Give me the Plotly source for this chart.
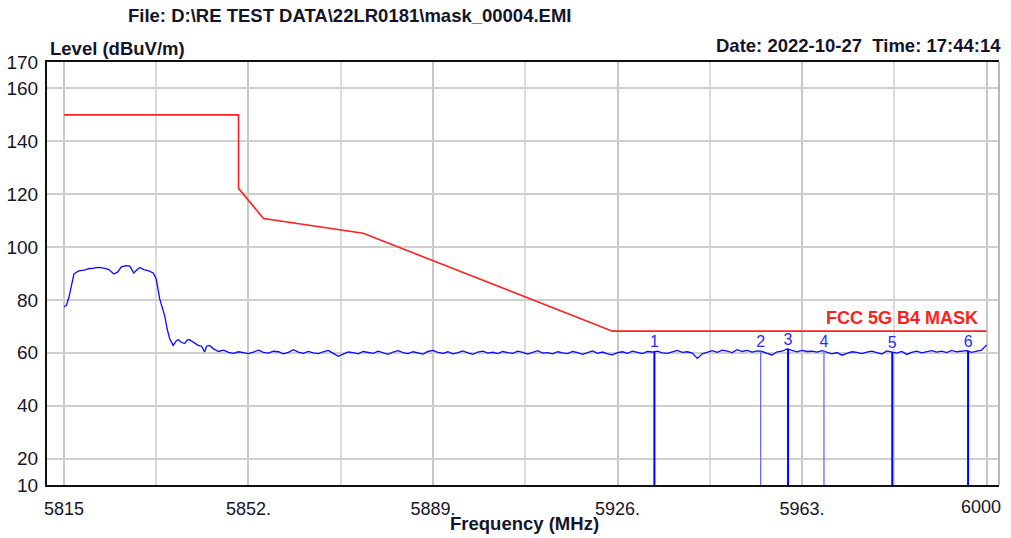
import plotly.graph_objects as go

# ---- data ----
trace_freq_head = [5815.0, 5815.5, 5816.0, 5816.5, 5817.0, 5817.5, 5818.0, 5819.0, 5820.0, 5821.0,
                   5822.0, 5823.0, 5824.0, 5825.0, 5825.8, 5826.5, 5827.5, 5828.2, 5829.0, 5829.7,
                   5830.2, 5831.0, 5832.0, 5832.9, 5833.5, 5834.2, 5834.7, 5835.2, 5835.7, 5836.2,
                   5836.9, 5837.5, 5837.9, 5838.5, 5839.2, 5839.7, 5840.2, 5841.0, 5841.9, 5842.6,
                   5843.2, 5843.6, 5844.2, 5845.0, 5845.6]
trace_level_head = [77.3, 78.0, 81.0, 86.0, 89.8, 90.5, 91.0, 91.3, 91.8, 92.0,
                    92.3, 92.0, 91.5, 89.8, 90.6, 92.5, 93.0, 92.8, 90.2, 91.5,
                    92.3, 91.5, 91.0, 90.2, 88.0, 80.4, 77.0, 74.0, 69.0, 65.3,
                    62.8, 64.5, 65.0, 64.0, 63.5, 64.8, 65.0, 64.0, 62.8, 62.5,
                    60.3, 62.5, 62.8, 61.5, 60.9]
trace_freq_tail = list(range(5846, 6001))
trace_level_tail = [
    60.5, 61.0, 60.2, 59.8, 60.4, 60.1, 59.7, 60.3, 61.0, 60.2,
    59.9, 60.6, 60.4, 59.6, 60.2, 61.2, 60.3, 59.8, 60.5, 60.0,
    59.7, 60.4, 60.9, 59.8, 58.7, 59.5, 60.3, 60.1, 59.6, 60.5,
    60.2, 59.8, 60.6, 60.0, 59.4, 60.3, 60.8, 60.1, 59.7, 60.4,
    60.0, 59.5, 60.5, 60.9, 60.2, 59.8, 60.4, 59.6, 60.1, 60.7,
    60.0, 59.4, 60.3, 60.6, 59.9, 60.2, 59.7, 60.5, 60.1, 59.8,
    60.6, 60.2, 59.5, 60.3, 60.8, 59.9, 60.1, 59.6, 60.4, 60.0,
    59.7, 60.5, 60.1, 59.4, 60.2, 60.7, 59.8, 60.3, 59.6, 59.2,
    60.1, 60.4, 59.8, 60.6, 60.2, 59.7, 60.5, 60.3, 60.6, 60.0,
    59.8, 60.5, 60.9, 60.2, 60.4, 59.9, 57.9, 59.6, 60.3, 60.8,
    60.2, 61.0, 60.6, 60.1, 61.2, 60.5, 60.9, 60.3, 60.7, 60.5,
    59.8, 59.2, 60.4, 60.6, 61.5, 60.8, 60.4, 60.9, 60.5, 60.6,
    60.3, 60.8, 60.2, 59.6, 60.1, 59.1, 59.8, 60.4, 60.2, 59.7,
    60.3, 60.6, 60.1, 59.5, 60.7, 60.3, 59.9, 60.5, 59.4, 60.2,
    60.6, 60.0, 60.4, 60.8, 60.3, 60.6, 60.1, 60.9, 60.4, 60.5,
    60.8, 60.2, 60.5, 61.0, 63.0]

mask_freq = [5815, 5850, 5850, 5855, 5875, 5925, 6000]
mask_level = [150, 150, 122.2, 110.8, 105.2, 68.2, 68.2]
mask_name = "FCC 5G B4 MASK"

marker_ids = ["1", "2", "3", "4", "5", "6"]
marker_freq = [5933.4, 5954.7, 5960.2, 5967.4, 5981.1, 5996.3]
marker_level = [60.5, 60.5, 61.5, 60.8, 60.3, 60.8]

x_tickvals = [5815, 5852, 5889, 5926, 5963, 6000]
x_ticktext = ["5815", "5852.", "5889.", "5926.", "5963.", ""]
x_last_label = "6000"
x_minor_grid = [5833.5, 5870.5, 5907.5, 5944.5, 5981.5]
y_tickvals = [10, 20, 40, 60, 80, 100, 120, 140, 160, 170]

title_text = "File: D:\\RE TEST DATA\\22LR0181\\mask_00004.EMI"
date_text = "Date: 2022-10-27&nbsp;&nbsp;Time: 17:44:14"
ylabel_text = "Level (dBuV/m)"
xlabel_text = "Frequency (MHz)"

FONT = "Liberation Sans, Arial, sans-serif"
TXT = "#15152a"

trace_freq = trace_freq_head + trace_freq_tail
trace_level = trace_level_head + trace_level_tail

fig = go.Figure()

fig.add_trace(go.Scatter(x=mask_freq, y=mask_level, mode="lines",
                         line=dict(color="#ff2020", width=1.6), hoverinfo="skip"))

fig.add_trace(go.Scatter(x=trace_freq, y=trace_level, mode="lines",
                         line=dict(color="#0a0aff", width=1.3), hoverinfo="skip"))

# marker stems
for i, (f, lv) in enumerate(zip(marker_freq, marker_level)):
    light = marker_ids[i] in ("2", "4")
    fig.add_trace(go.Scatter(x=[f, f], y=[10, lv], mode="lines",
                             line=dict(color="#6a6aff" if light else "#0000ff",
                                       width=1.3 if light else 2),
                             hoverinfo="skip"))

fig.add_trace(go.Scatter(x=marker_freq, y=marker_level, mode="text", text=marker_ids,
                         textposition="top center",
                         textfont=dict(family=FONT, size=16, color="#2a2aff"),
                         hoverinfo="skip"))

fig.update_layout(
    width=1011, height=538,
    margin=dict(l=47, r=12, t=62, b=53),
    paper_bgcolor="white", plot_bgcolor="white",
    showlegend=False,
    xaxis=dict(range=[5811.6, 6002.5], tickvals=x_tickvals, ticktext=x_ticktext,
               automargin=False,
               showgrid=True, gridcolor="#c8c8c8", gridwidth=1.5,
               minor=dict(tickvals=x_minor_grid, showgrid=True, gridcolor="#dcdcdc", gridwidth=1.5),
               showline=True, linecolor="#111111", linewidth=2, mirror=True,
               ticks="", zeroline=False, ticklabelstandoff=6,
               tickfont=dict(family=FONT, size=18, color=TXT)),
    yaxis=dict(range=[10, 170], tickvals=y_tickvals, automargin=False,
               showgrid=True, gridcolor="#cfcfcf", gridwidth=1.5,
               showline=True, linecolor="#111111", linewidth=2, mirror=False,
               ticks="", zeroline=False, ticklabelstandoff=3,
               tickfont=dict(family=FONT, size=19, color=TXT)),
    shapes=[dict(type="line", xref="paper", yref="paper", x0=1, x1=1, y0=0, y1=1,
                 line=dict(color="#b8b8b8", width=2))],
    annotations=[
        dict(text="<b>%s</b>" % title_text, xref="paper", yref="paper", x=0.318, y=1.111,
             xanchor="center", yanchor="middle", showarrow=False,
             font=dict(family=FONT, size=18.5, color=TXT)),
        dict(text="<b>%s</b>" % ylabel_text, xref="paper", yref="paper", x=0.001, y=1.033,
             xanchor="left", yanchor="middle", showarrow=False,
             font=dict(family=FONT, size=18.5, color=TXT)),
        dict(text="<b>%s</b>" % date_text, xref="paper", yref="paper", x=1.004, y=1.040,
             xanchor="right", yanchor="middle", showarrow=False,
             font=dict(family=FONT, size=18.5, color=TXT)),
        dict(text="<b>%s</b>" % xlabel_text, xref="paper", yref="paper", x=0.502, y=-0.090,
             xanchor="center", yanchor="middle", showarrow=False,
             font=dict(family=FONT, size=18.5, color=TXT)),
        dict(text=x_last_label, x=x_tickvals[-1], xref="x", yref="paper", y=-0.052,
             xanchor="right", yanchor="middle", xshift=16, showarrow=False,
             font=dict(family=FONT, size=18, color=TXT)),
        dict(text="<b>%s</b>" % mask_name, x=5998.6, y=73.2, xref="x", yref="y",
             xanchor="right", yanchor="middle", showarrow=False,
             font=dict(family=FONT, size=18, color="#ff2020")),
    ],
)

fig.write_html("out.html")
